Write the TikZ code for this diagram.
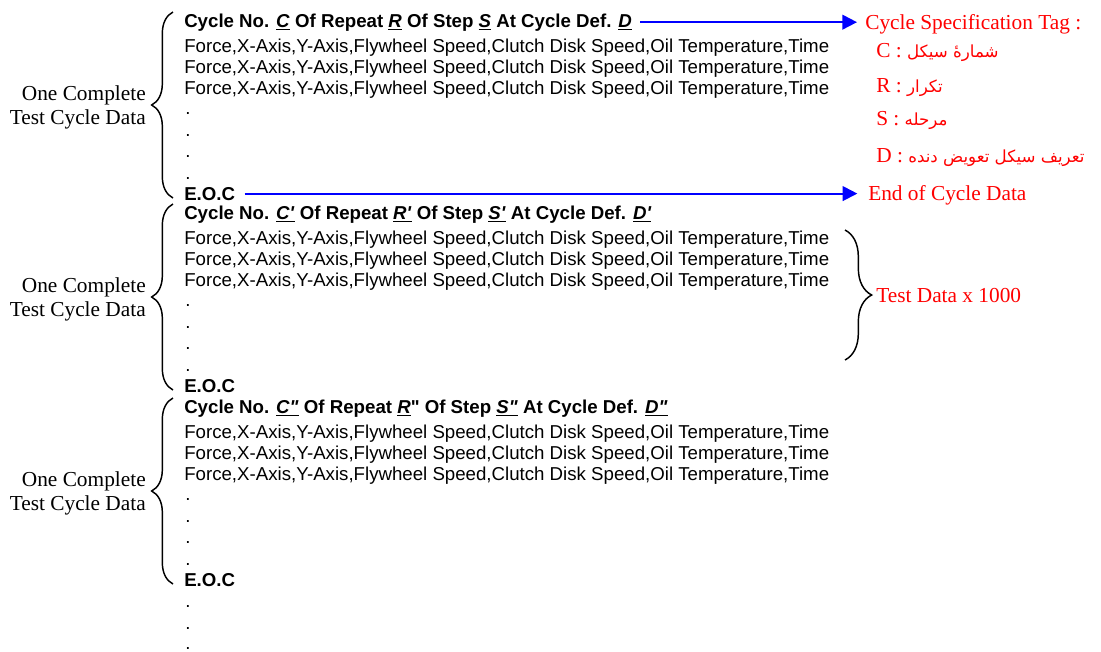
\documentclass[tikz,border=0pt]{standalone}
\usepackage{fontspec}
\setmainfont{Liberation Serif}
\newfontfamily\arialfont{Liberation Sans}
\newfontfamily\farsifont[Script=Arabic]{DejaVu Sans}
\TeXXeTstate=1
\usetikzlibrary{arrows.meta, decorations.pathreplacing}

\newcommand{\dataline}{Force,X-Axis,Y-Axis,Flywheel Speed,Clutch Disk Speed,Oil Temperature,Time}
\newcommand{\tagged}[1]{\underline{\textit{#1}}}
\newcommand{\fa}[1]{{\farsifont\fontsize{12.5}{14}\selectfont\beginR #1\endR}}

\begin{document}
\begin{tikzpicture}[
  x=0.75pt, y=-0.75pt,
  datatext/.style={anchor=base west, inner sep=0pt, font=\arialfont\fontsize{14}{16}\selectfont},
  boldtext/.style={anchor=base west, inner sep=0pt, font=\arialfont\bfseries\fontsize{14}{16}\selectfont},
  labeltext/.style={anchor=east, align=right, inner sep=0pt, font=\fontsize{16}{18}\selectfont},
  tagtext/.style={anchor=base west, inner sep=0pt, text=red, font=\fontsize{16}{18}\selectfont},
  arrow/.style={-{Triangle[length=11pt, width=11pt]}, line width=1.5pt, blue},
  curly/.style={decorate, decoration={brace, amplitude=16pt}, line width=1.1pt}
]
  \useasboundingbox (0,0) rectangle (1101,651);

  % cycle headers
  \node[boldtext] (head1) at (184,27) {Cycle No. \tagged{C} Of Repeat \tagged{R} Of Step \tagged{S} At Cycle Def. \tagged{D}};
  \node[boldtext] (head2) at (184,219) {Cycle No. \tagged{C'} Of Repeat \tagged{R'} Of Step \tagged{S'} At Cycle Def. \tagged{D'}};
  \node[boldtext] (head3) at (184,413) {Cycle No. \tagged{C"} Of Repeat \tagged{R}" Of Step \tagged{S"} At Cycle Def. \tagged{D"}};

  % rows, dots and end of each cycle
  \foreach \i/\b in {1/27, 2/219, 3/413} {
    \foreach \r in {1,2,3}
      \node[datatext] (row\i\r) at (184,\b+4+21*\r) {\dataline};
    \foreach \d in {1,...,4}
      \node[datatext] (dot\i\d) at (185,\b+66+21.5*\d) {.};
    \node[boldtext] (eoc\i) at (184,\b+173) {E.O.C};
    \node[labeltext] (cycle\i) at (146,\b+80) {One Complete\\Test Cycle Data};
    \draw[curly] (173,\b+171) -- (173,\b-15);
  }
  \node[datatext] (more1) at (185,607) {.};
  \node[datatext] (more2) at (185,629) {.};
  \node[datatext] (more3) at (185,649) {.};

  % notes on the right
  \node[tagtext] (tag) at (865,29) {Cycle Specification Tag :};
  \node[tagtext] (tagc) at (876,57) {C : \fa{شمارهٔ سیکل}};
  \node[tagtext] (tagr) at (876,92) {R : \fa{تکرار}};
  \node[tagtext] (tags) at (876,125) {S : \fa{مرحله}};
  \node[tagtext] (tagd) at (876,162) {D : \fa{تعریف سیکل تعویض دنده}};
  \node[tagtext] (eot) at (868,200) {End of Cycle Data};
  \node[tagtext] (testdata) at (876,302) {Test Data x 1000};

  \draw[arrow, shorten <=6pt, shorten >=6pt] (head1.east) -- (head1.east -| tag.west);
  \draw[arrow, shorten <=7pt, shorten >=8pt] (eoc1.east) -- (eoc1.east -| eot.west);
  \draw[curly, decoration={brace, amplitude=20pt}] (845,230) -- (845,360);
\end{tikzpicture}
\end{document}
